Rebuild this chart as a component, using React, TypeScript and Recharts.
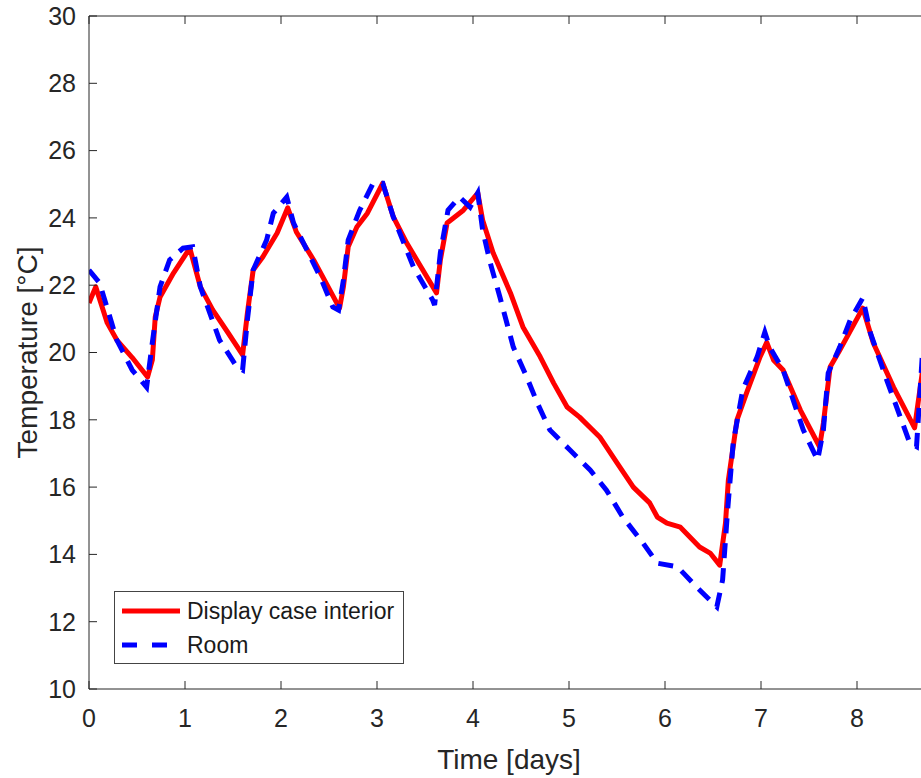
import { LineChart, Line, XAxis, YAxis, Legend } from "recharts";

// display case interior (red)
const caseDays = [
  0, 0.07, 0.19, 0.29, 0.45, 0.61, 0.66, 0.69, 0.74, 0.88, 1.05, 1.16, 1.29, 1.45, 1.6,
  1.65, 1.71, 1.81, 1.96, 2.07, 2.16, 2.34, 2.61, 2.65, 2.7, 2.79, 2.9, 3.06, 3.17, 3.31,
  3.62, 3.66, 3.73, 3.9, 4.05, 4.1, 4.21, 4.39, 4.52, 4.7, 4.84, 4.98, 5.11, 5.32, 5.5,
  5.67, 5.84, 5.92, 6.02, 6.16, 6.36, 6.47, 6.57, 6.63, 6.66, 6.75, 6.85, 6.99, 7.06, 7.13,
  7.23, 7.41, 7.61, 7.65, 7.72, 7.82, 8.06, 8.17, 8.38, 8.6, 8.68,
];
const caseTemps = [
  21.47, 21.95, 20.88, 20.37, 19.85, 19.27, 19.78, 21.05, 21.65, 22.36, 23.1, 21.95, 21.26, 20.58, 19.93,
  21.17, 22.45, 22.84, 23.55, 24.3, 23.58, 22.75, 21.32, 21.95, 23.14, 23.73, 24.14, 25.03, 24.03, 23.25,
  21.77, 22.75, 23.85, 24.23, 24.74, 23.94, 22.96, 21.77, 20.76, 19.87, 19.09, 18.38, 18.08, 17.49, 16.72,
  16.0, 15.53, 15.11, 14.93, 14.81, 14.22, 14.04, 13.68, 14.93, 16.21, 18.0, 18.8, 19.87, 20.3, 19.78,
  19.48, 18.29, 17.2, 17.9, 19.57, 20.07, 21.32, 20.28, 18.97, 17.76, 19.4,
];

// room (blue dashed)
const roomDays = [
  0, 0.11, 0.29, 0.45, 0.6, 0.66, 0.74, 0.84, 0.98, 1.08, 1.16, 1.36, 1.54, 1.6,
  1.65, 1.71, 1.85, 1.92, 2.06, 2.13, 2.41, 2.54, 2.6, 2.65, 2.7, 2.82, 2.96, 3.06,
  3.17, 3.38, 3.58, 3.6, 3.66, 3.74, 3.86, 3.97, 4.05, 4.1, 4.18, 4.28, 4.42, 4.56,
  4.67, 4.8, 5.01, 5.22, 5.39, 5.56, 5.77, 5.92, 6.13, 6.33, 6.54, 6.6, 6.65, 6.71,
  6.81, 6.96, 7.04, 7.09, 7.23, 7.44, 7.59, 7.65, 7.7, 7.82, 7.93, 8.06, 8.14, 8.31,
  8.55, 8.62, 8.68,
];
const roomTemps = [
  22.45, 22.07, 20.37, 19.48, 18.97, 20.3, 21.95, 22.75, 23.1, 23.14, 21.95, 20.37, 19.57, 19.48,
  20.97, 22.45, 23.34, 24.14, 24.62, 23.85, 22.24, 21.35, 21.26, 22.15, 23.34, 24.23, 25.03, 25.03,
  24.03, 22.54, 21.56, 21.41, 22.96, 24.23, 24.62, 24.32, 24.74, 23.64, 22.66, 21.65, 20.16, 19.27,
  18.5, 17.7, 17.1, 16.51, 15.91, 15.11, 14.34, 13.74, 13.63, 13.03, 12.44, 13.24, 15.23, 17.31,
  18.89, 19.87, 20.6, 20.16, 19.48, 17.7, 16.8, 17.7, 19.39, 20.16, 20.97, 21.62, 20.58, 19.18,
  17.31, 17.2, 19.9,
];

const dayTicks = [0, 1, 2, 3, 4, 5, 6, 7, 8];
const tempTicks = [10, 12, 14, 16, 18, 20, 22, 24, 26, 28, 30];

const caseData = caseDays.map((day, i) => ({ day, temp: caseTemps[i] }));
const roomData = roomDays.map((day, i) => ({ day, temp: roomTemps[i] }));

const FONT = '"Liberation Sans", Arial, Helvetica, sans-serif';
const INK = "#262626";

function LegendBox({ payload }: any) {
  return (
    <svg width={290} height={73} style={{ display: "block" }}>
      <rect x={0.5} y={0.5} width={289} height={72} fill="#fff" stroke="#444" />
      {(payload ?? []).map((item: any, i: number) => {
        const y = 20 + i * 34;
        return (
          <g key={item.value}>
            <line
              x1={8}
              x2={66}
              y1={y}
              y2={y}
              stroke={item.color}
              strokeWidth={5}
              strokeDasharray={item.payload?.strokeDasharray ? "15 15" : undefined}
            />
            <text x={73} y={y} dy="0.35em" fontSize={23} fill="#1a1a1a" fontFamily={FONT}>
              {item.value}
            </text>
          </g>
        );
      })}
    </svg>
  );
}

export default function App() {
  const tick = { fontSize: 25, fill: INK, fontFamily: FONT };
  return (
    <div style={{ position: "fixed", left: 0, top: 0, width: 921, height: 778, overflow: "hidden", background: "#fff" }}>
      <LineChart width={940} height={778} margin={{ top: 15, right: 11, bottom: 0, left: 0 }}>
        <XAxis
          xAxisId="top"
          orientation="top"
          type="number"
          dataKey="day"
          domain={[0, 8.75]}
          ticks={dayTicks}
          height={1}
          tickSize={-8}
          tickFormatter={() => ""}
          stroke={INK}
          allowDataOverflow
        />
        <XAxis
          type="number"
          dataKey="day"
          domain={[0, 8.75]}
          ticks={dayTicks}
          height={89}
          tickSize={-8}
          tickMargin={28}
          tick={tick}
          stroke={INK}
          allowDataOverflow
          label={{ value: "Time [days]", position: "insideBottom", offset: 9, fontSize: 28, fill: INK, fontFamily: FONT }}
        />
        <YAxis
          type="number"
          domain={[10, 30]}
          ticks={tempTicks}
          width={89}
          tickSize={-8}
          tickMargin={21}
          tick={tick}
          stroke={INK}
          allowDataOverflow
          label={{
            value: "Temperature [°C]",
            angle: -90,
            position: "insideLeft",
            offset: 27,
            fontSize: 28,
            fill: INK,
            fontFamily: FONT,
            style: { textAnchor: "middle" },
          }}
        />
        <Legend
          layout="vertical"
          align="center"
          verticalAlign="middle"
          content={<LegendBox />}
          wrapperStyle={{ left: 114, top: 591, width: 290, height: 73 }}
        />
        <Line
          data={caseData}
          dataKey="temp"
          name="Display case interior"
          type="linear"
          stroke="#ff0000"
          strokeWidth={5}
          strokeLinejoin="round"
          dot={false}
          legendType="line"
          isAnimationActive={false}
        />
        <Line
          data={roomData}
          dataKey="temp"
          name="Room"
          type="linear"
          stroke="#0000ff"
          strokeWidth={5}
          strokeDasharray="15 10"
          dot={false}
          legendType="line"
          isAnimationActive={false}
        />
      </LineChart>
    </div>
  );
}
